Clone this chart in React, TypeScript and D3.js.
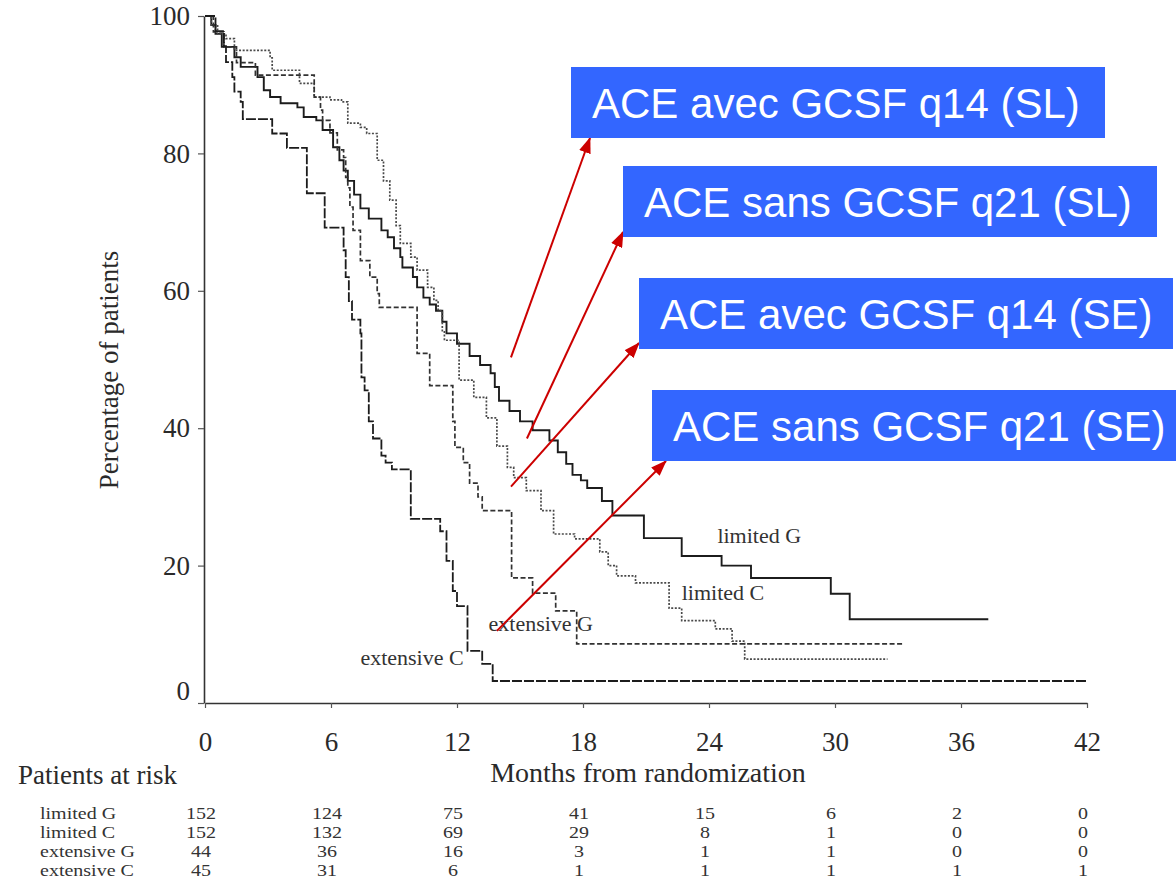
import React, { useEffect, useRef } from "react";
import * as d3 from "d3";

// Kaplan–Meier survival steps: [months from randomization, % of patients]
const limitedG: [number, number][] = [
  [0, 100], [0.3, 98.7], [0.5, 97.4], [0.8, 95.5], [1.4, 94], [1.7, 92.6], [2.5, 91.1],
  [2.8, 89.2], [3.1, 88.2], [3.6, 87.3], [4.4, 86.7], [4.7, 85.3], [5.3, 84.8], [5.6, 83.4],
  [6.1, 80.9], [6.4, 79], [6.6, 77.5], [6.8, 76], [7.1, 74], [7.4, 72], [7.8, 70.5],
  [8.4, 68.8], [8.7, 67.8], [9.0, 66.2], [9.3, 64.9], [9.4, 63.4], [9.9, 62], [10.1, 60.5],
  [10.4, 59], [10.7, 58], [11.0, 57.1], [11.3, 55.5], [11.5, 53.8], [12.0, 52.3],
  [12.6, 50.5], [13.1, 49.2], [13.6, 48], [13.8, 46], [14.0, 44], [14.5, 42.5], [15.0, 41],
  [15.6, 39.7], [16.4, 38.2], [16.8, 36.5], [17.2, 34.8], [17.5, 33.2], [17.9, 32.4],
  [18.2, 31.3], [18.9, 29.4], [19.4, 27.3], [20.9, 24], [22.7, 21.4], [24.6, 20],
  [26.0, 18.2], [29.8, 15.9], [30.7, 12.2], [37.3, 12.2],
];

const limitedC: [number, number][] = [
  [0, 100], [0.3, 98.7], [0.6, 97.4], [1.0, 96.7], [1.4, 95], [3.1, 93.9], [3.2, 92.1],
  [4.5, 90.2], [5.2, 88.2], [5.95, 87.8], [6.5, 87.5], [6.8, 84.4], [7.4, 83.8],
  [7.7, 82.9], [8.2, 79], [8.5, 76], [8.8, 73.2], [9.1, 69.5], [9.3, 66.9], [9.8, 64.9],
  [10.1, 63], [10.6, 60.5], [10.9, 58.6], [11.1, 57.1], [11.3, 54.2], [11.4, 52.8],
  [12.1, 47], [12.8, 44.5], [13.4, 41.5], [13.9, 37.4], [14.4, 34.3], [14.7, 32.8],
  [15.3, 30.9], [16.0, 28], [16.6, 24.6], [17.6, 23.9], [18.8, 22], [19.2, 20],
  [19.6, 18.5], [20.5, 17.5], [22.1, 13.8], [22.7, 12], [24.3, 10.8], [25.1, 9],
  [25.7, 6.4], [32.5, 6.4],
];

const extensiveG: [number, number][] = [
  [0, 100], [0.4, 97.7], [0.9, 95.5], [1.5, 93.2], [2.4, 91.4], [5.2, 88.2], [5.5, 86.3],
  [5.6, 84.8], [5.95, 83], [6.3, 80.5], [6.6, 79.4], [6.7, 76.5], [6.8, 75], [6.9, 72.2],
  [7.05, 68.8], [7.4, 64.4], [7.85, 62], [8.2, 59.6], [8.3, 57.6], [10.1, 50.9],
  [10.7, 46.2], [11.8, 41], [11.9, 37.2], [12.3, 35], [12.6, 32], [13.0, 30], [13.2, 28],
  [14.6, 18.2], [15.6, 16], [16.7, 13.4], [17.7, 8.6], [33.3, 8.6],
];

const extensiveC: [number, number][] = [
  [0, 100], [0.5, 97.8], [0.9, 95.6], [1.0, 93.3], [1.3, 91.1], [1.4, 89], [1.7, 87.5],
  [1.8, 85], [3.2, 82.9], [3.9, 80.8], [4.85, 74.2], [5.7, 69.2], [6.6, 65.9], [6.7, 62],
  [6.85, 58.5], [7.0, 55.8], [7.4, 53.8], [7.45, 47.4], [7.6, 45.5], [7.8, 41], [8.0, 38.5],
  [8.4, 36], [8.6, 35], [8.9, 34], [9.8, 26.8], [11.2, 25], [11.5, 20.7], [11.8, 16.3],
  [12.0, 14.1], [12.5, 7.6], [13.2, 5.7], [13.7, 3.2], [42, 3.2],
];

// Axis ticks
const monthTicks = [0, 6, 12, 18, 24, 30, 36, 42];
const percentTicks = [0, 20, 40, 60, 80, 100];

// Patients at risk table
const riskGroups = ["limited G", "limited C", "extensive G", "extensive C"];
const riskLimitedG = [152, 124, 75, 41, 15, 6, 2, 0];
const riskLimitedC = [152, 132, 69, 29, 8, 1, 0, 0];
const riskExtensiveG = [44, 36, 16, 3, 1, 1, 0, 0];
const riskExtensiveC = [45, 31, 6, 1, 1, 1, 1, 1];

// Curve labels: [text, month, percent] anchoring the label start
const curveLabels: [string, number, number][] = [
  ["limited G", 24.4, 23.3],
  ["limited C", 22.7, 15],
  ["extensive G", 13.5, 10.5],
  ["extensive C", 7.4, 5.6],
];

// Callout boxes and the point each arrow leaves from
const calloutTexts = [
  "ACE avec GCSF q14 (SL)",
  "ACE sans GCSF q21 (SL)",
  "ACE avec GCSF q14 (SE)",
  "ACE sans GCSF q21 (SE)",
];
const arrowStartMonth = [14.57, 15.33, 14.57, 13.9];
const arrowStartPercent = [50.3, 38.5, 31.5, 10.5];

const FONT_SERIF = "'Liberation Serif', 'Times New Roman', serif";
const FONT_SANS = "'Liberation Sans', Arial, sans-serif";

export default function App() {
  const yAxisRef = useRef<SVGGElement>(null);
  const xAxisRef = useRef<SVGGElement>(null);

  const x = d3.scaleLinear().domain([0, 42]).range([205, 1087]);
  const y = d3.scaleLinear().domain([0, 100]).range([703, 16]);

  const line = d3
    .line<[number, number]>()
    .x((d) => x(d[0]))
    .y((d) => y(d[1]))
    .curve(d3.curveStepAfter);

  useEffect(() => {
    const gy = d3.select(yAxisRef.current!);
    gy.selectAll("*").remove();
    gy.call(
      d3.axisLeft(y).tickValues(percentTicks).tickSize(6).tickSizeOuter(0).tickPadding(8)
    );
    gy.select(".domain").attr("stroke", "#333").attr("stroke-width", 1.6);
    gy.selectAll(".tick line").attr("stroke", "#555").attr("stroke-width", 1.2);
    gy.selectAll(".tick text")
      .attr("font-family", FONT_SERIF)
      .attr("font-size", 27)
      .attr("fill", "#2a2a2a")
      .attr("dy", (d: any) => (d === 0 ? "-0.12em" : "0.32em"));

    const gx = d3.select(xAxisRef.current!);
    gx.selectAll("*").remove();
    gx.call(
      d3.axisBottom(x).tickValues(monthTicks).tickSize(5).tickSizeOuter(0).tickPadding(24)
    );
    gx.select(".domain").attr("stroke", "#333").attr("stroke-width", 1.6);
    gx.selectAll(".tick line").attr("stroke", "#555").attr("stroke-width", 1.2);
    gx.selectAll(".tick text")
      .attr("font-family", FONT_SERIF)
      .attr("font-size", 27)
      .attr("fill", "#2a2a2a");
  }, []);

  const series = [
    { data: limitedG, dash: "none", color: "#1c1c1c", width: 1.9 },
    { data: limitedC, dash: "2 1.6", color: "#4a4a4a", width: 1.7 },
    { data: extensiveG, dash: "5 2.5", color: "#333", width: 1.7 },
    { data: extensiveC, dash: "10 2", color: "#1c1c1c", width: 1.8 },
  ];

  const riskRows = [riskLimitedG, riskLimitedC, riskExtensiveG, riskExtensiveC];
  const rowBaselines = [819, 838, 857, 876];
  const riskFont = 16;
  const riskStretch = 1.25;

  // Callout box layout
  const boxW = 534;
  const boxH = 71;
  const boxes = [
    { bx: 571, by: 67, tipDx: 19, tipDy: 0 },
    { bx: 623, by: 166, tipDx: 0, tipDy: -5 },
    { bx: 639, by: 278, tipDx: 0, tipDy: -6 },
    { bx: 652, by: 390, tipDx: 14, tipDy: 0 },
  ];

  return (
    <svg
      width={1176}
      height={882}
      style={{ position: "absolute", left: 0, top: 0, background: "#fff" }}
    >
      <defs>
        <filter id="soft" x="-5%" y="-5%" width="110%" height="110%">
          <feGaussianBlur stdDeviation="0.45" />
        </filter>
        <marker
          id="arrowHead"
          viewBox="0 0 16 12"
          refX="15"
          refY="6"
          markerWidth="16"
          markerHeight="12"
          markerUnits="userSpaceOnUse"
          orient="auto"
        >
          <path d="M0,0 L16,6 L0,12 Z" fill="#cc0000" />
        </marker>
      </defs>

      {/* Axes */}
      <g ref={yAxisRef} transform={`translate(${x(0) - 1},0)`} />
      <g ref={xAxisRef} transform={`translate(0,${y(0)})`} />

      {/* Survival curves */}
      <g filter="url(#soft)">
        {series.map((s, i) => (
          <path
            key={i}
            d={line(s.data) || ""}
            fill="none"
            stroke={s.color}
            strokeWidth={s.width}
            strokeDasharray={s.dash}
          />
        ))}
      </g>

      {/* Curve labels */}
      {curveLabels.map(([t, m, p]) => (
        <text
          key={t}
          x={x(m)}
          y={y(p)}
          fontFamily={FONT_SERIF}
          fontSize={22}
          fill="#333"
        >
          {t}
        </text>
      ))}

      {/* Axis titles */}
      <text
        transform={`translate(118,370) rotate(-90)`}
        textAnchor="middle"
        fontFamily={FONT_SERIF}
        fontSize={27}
        fill="#2a2a2a"
      >
        Percentage of patients
      </text>
      <text
        x={648}
        y={782}
        textAnchor="middle"
        fontFamily={FONT_SERIF}
        fontSize={28}
        fill="#2a2a2a"
      >
        Months from randomization
      </text>

      {/* Patients at risk */}
      <text x={18} y={784} fontFamily={FONT_SERIF} fontSize={27} fill="#2a2a2a">
        Patients at risk
      </text>
      {riskGroups.map((g, r) => (
        <g key={g}>
          <text
            transform={`translate(40,${rowBaselines[r]}) scale(${riskStretch},1)`}
            fontFamily={FONT_SERIF}
            fontSize={riskFont}
            fill="#333"
          >
            {g}
          </text>
          {riskRows[r].map((n, c) => (
            <text
              key={c}
              transform={`translate(${x(monthTicks[c]) - 4},${rowBaselines[r]}) scale(${riskStretch},1)`}
              textAnchor="middle"
              fontFamily={FONT_SERIF}
              fontSize={riskFont}
              fill="#333"
            >
              {n}
            </text>
          ))}
        </g>
      ))}

      {/* Callouts */}
      {boxes.map((b, i) => (
        <g key={i}>
          <line
            x1={x(arrowStartMonth[i])}
            y1={y(arrowStartPercent[i])}
            x2={b.bx + b.tipDx}
            y2={b.by + boxH + b.tipDy}
            stroke="#cc0000"
            strokeWidth={2}
            markerEnd="url(#arrowHead)"
          />
          <rect x={b.bx} y={b.by} width={boxW} height={boxH} fill="#3366ff" />
          <text
            x={b.bx + 21}
            y={b.by + boxH / 2 + 15}
            fontFamily={FONT_SANS}
            fontSize={42}
            fill="#ffffff"
          >
            {calloutTexts[i]}
          </text>
        </g>
      ))}
    </svg>
  );
}
